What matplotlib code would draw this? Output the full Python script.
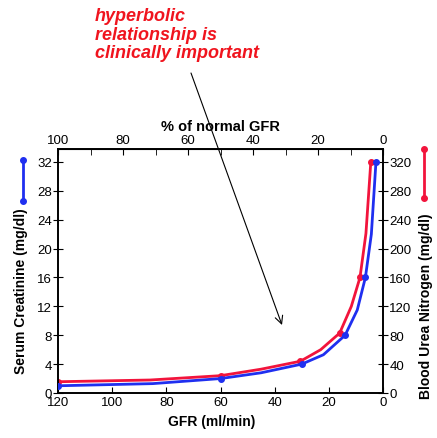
import matplotlib
matplotlib.use('Agg')
import matplotlib.pyplot as plt
from matplotlib.lines import Line2D

plt.rcParams['font.family'] = ['Liberation Sans', 'DejaVu Sans']

# GFR (ml/min) vs serum creatinine (mg/dl); marker points and curve points
scr_gfr = [120, 85, 60, 45, 30, 22, 14, 9.5, 6.5, 4.3, 2.6]
scr_val = [1.0, 1.3, 2.0, 2.8, 4.0, 5.3, 8.0, 11.5, 16, 22, 32]
scr_marks = [0, 2, 4, 6, 8, 10]

# GFR vs blood urea nitrogen (mg/dl)
bun_gfr = [120, 86, 60, 45, 30.5, 23, 16, 11.7, 8.5, 6.3, 4.5]
bun_val = [15.6, 18, 24, 33, 44, 60, 83, 120, 160, 221, 320]
bun_marks = [0, 2, 4, 6, 8, 10]

gfr_ticks = [120, 100, 80, 60, 40, 20, 0]
pct_ticks = [100, 80, 60, 40, 20, 0]
scr_ticks = [0, 4, 8, 12, 16, 20, 24, 28, 32]
bun_ticks = [0, 40, 80, 120, 160, 200, 240, 280, 320]

BLUE = '#1f2ff0'
RED = '#f2143c'

fig = plt.figure(figsize=(4.37, 4.39), dpi=100)
ax = fig.add_axes([58 / 437, 1 - 394 / 439, 325 / 437, 244 / 439])

ax.plot(scr_gfr, scr_val, color=BLUE, lw=2, marker='o', ms=4,
        markevery=scr_marks, zorder=3)
ax.set_xlim(120, 0)
ax.set_ylim(0, 33.8)
ax.set_xticks(gfr_ticks)
ax.set_yticks(scr_ticks)
ax.tick_params(axis='x', direction='in', length=4, labelsize=9.5, pad=2)
ax.tick_params(axis='y', direction='inout', length=7, labelsize=9.5, pad=1)
ax.set_xlabel('GFR (ml/min)', fontsize=10, fontweight='bold')
ax.xaxis.set_label_coords(0.472, -0.085)
ax.set_ylabel('Serum Creatinine (mg/dl)', fontsize=10, fontweight='bold')
ax.yaxis.set_label_coords(-0.092, 0.42)

ax2 = ax.twinx()
ax2.plot(bun_gfr, bun_val, color=RED, lw=2, marker='o', ms=4,
         markevery=bun_marks, zorder=2)
ax2.set_ylim(0, 338)
ax2.set_yticks(bun_ticks)
ax2.tick_params(axis='y', direction='inout', length=7, labelsize=9.5, pad=1)
ax2.set_ylabel('Blood Urea Nitrogen (mg/dl)', fontsize=10, fontweight='bold')
ax2.yaxis.set_label_coords(1.111, 0.36)
ax.set_zorder(ax2.get_zorder() + 1)
ax.patch.set_visible(False)

top = ax.secondary_xaxis('top', functions=(lambda g: g / 1.2, lambda p: p * 1.2))
top.set_xticks(pct_ticks)
top.set_xticks([90, 70, 50, 30, 10], minor=True)
top.tick_params(axis='x', which='both', direction='in', length=4, labelsize=9.5, pad=2)
top.set_xlabel('% of normal GFR', fontsize=10.5, fontweight='bold', labelpad=3)

for a in (ax, ax2):
    for s in a.spines.values():
        s.set_linewidth(1.2)

# small colour keys beside the y labels
fig.add_artist(Line2D([23 / 437, 23 / 437], [1 - 161 / 439, 1 - 202 / 439],
                      color=BLUE, lw=2, marker='o', ms=4, transform=fig.transFigure))
fig.add_artist(Line2D([424 / 437, 424 / 437], [1 - 150 / 439, 1 - 199 / 439],
                      color=RED, lw=2, marker='o', ms=4, transform=fig.transFigure))

fig.text(95 / 437, 1 - 8 / 439, 'hyperbolic\nrelationship is\nclinically important',
         color='#f0141e', fontsize=13, fontweight='bold', style='italic',
         va='top', ha='left', linespacing=1.12)
ax.annotate('', xy=(282 / 437, 1 - 326 / 439), xytext=(191 / 437, 1 - 74 / 439),
            xycoords='figure fraction', textcoords='figure fraction',
            arrowprops=dict(arrowstyle='->', color='black', lw=0.8,
                            mutation_scale=14, shrinkA=0, shrinkB=0))

fig.savefig('out.png', dpi=100)
